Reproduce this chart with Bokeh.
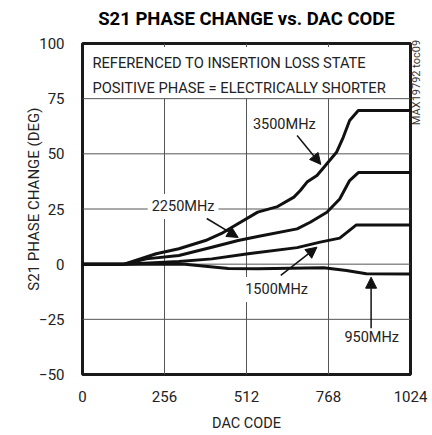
import math
from bokeh.plotting import figure
from bokeh.models import Label, Arrow, NormalHead, FixedTicker, Range1d, LinearAxis
from bokeh.embed import file_html
from bokeh.resources import INLINE

# ---- data ----
code_3500 = [0, 130, 230, 301, 384, 434, 476, 547, 609, 660, 680, 701, 732, 763, 793, 814, 834, 861, 1024]
deg_3500 = [0, 0, 4.7, 7.0, 10.7, 13.9, 17.5, 23.6, 26.1, 30.4, 33.4, 37.2, 40.2, 45.5, 50.7, 57.5, 65.1, 69.6, 69.6]

code_2250 = [0, 130, 199, 301, 404, 486, 547, 670, 711, 763, 803, 834, 861, 1024]
deg_2250 = [0, 0, 2.4, 3.9, 7.7, 10.7, 12.5, 16.0, 19.0, 23.5, 29.5, 37.9, 41.5, 41.5]

code_1500 = [0, 130, 301, 404, 517, 670, 742, 803, 855, 1024]
deg_1500 = [0, 0, 1.2, 2.4, 4.7, 7.5, 10.0, 11.8, 17.8, 17.8]

code_950 = [0, 130, 320, 455, 547, 753, 824, 886, 1024]
deg_950 = [0, 0, 0, -2.0, -2.1, -1.6, -2.9, -4.3, -4.5]

x_ticks = [0, 256, 512, 768, 1024]
y_ticks = [-50, -25, 0, 25, 50, 75, 100]

curve_labels = ["3500MHz", "2250MHz", "1500MHz", "950MHz"]
label_x = [630, 314, 606, 903]
label_y = [63.3, 26.1, -11.5, -33.4]
arrow_x0 = [670, 388, 619, 901]
arrow_y0 = [58.3, 20.7, -5.1, -29.0]
arrow_x1 = [744, 486, 732, 901]
arrow_y1 = [45.2, 12.1, 7.7, -5.9]

chart_title = "S21 PHASE CHANGE vs. DAC CODE"
note_lines = ["REFERENCED TO INSERTION LOSS STATE", "POSITIVE PHASE = ELECTRICALLY SHORTER"]
note_y = [91.0, 80.0]
box_bottom = 75          # the note box spans the top band of the chart
y_title = "S21 PHASE CHANGE (DEG)"
y_title_at = 71
side_note = "MAX19792 toc09"
side_note_at = 63

FONT = "Roboto"
TXT = "#222222"
GRID = "#555555"

p = figure(width=432, height=434, output_backend="svg", toolbar_location=None,
           x_range=Range1d(0, 1024), y_range=Range1d(-50, 100),
           min_border_left=82, min_border_right=19, min_border_top=43, min_border_bottom=60)

p.outline_line_color = "#1a1a1a"
p.outline_line_width = 3
p.grid.visible = False

p.xaxis.ticker = FixedTicker(ticks=x_ticks)
p.yaxis.ticker = FixedTicker(ticks=y_ticks)
for ax in (p.xaxis[0], p.yaxis[0]):
    ax.axis_line_color = None
    ax.major_tick_line_color = None
    ax.minor_tick_line_color = None
    ax.major_label_text_font = FONT
    ax.major_label_text_font_size = "15px"
    ax.major_label_text_color = TXT
    ax.axis_label_text_font = FONT
    ax.axis_label_text_font_size = "14.5px"
    ax.axis_label_text_font_style = "normal"
    ax.axis_label_text_color = TXT
p.xaxis.major_tick_out = 0
p.xaxis.major_tick_in = 0
p.xaxis.major_label_standoff = 16
p.yaxis.major_label_standoff = 12
p.xaxis.axis_label = "DAC CODE"
p.xaxis.axis_label_standoff = 10


def label_axis(tick, text, size, standoff, orientation, color=TXT, style="normal"):
    return LinearAxis(ticker=FixedTicker(ticks=[tick]), major_label_overrides={tick: text},
                      major_label_orientation=orientation, axis_line_color=None,
                      major_tick_line_color=None, minor_tick_line_color=None,
                      major_tick_out=0, major_tick_in=0, major_label_standoff=standoff,
                      major_label_text_font=FONT, major_label_text_font_size=size,
                      major_label_text_font_style=style, major_label_text_color=color)


# chart title centred over the plot
p.add_layout(label_axis(x_ticks[2], chart_title, "18.5px", 14, "horizontal", "#000000", "bold"), "above")
# y title as an extra outer left axis (single labelled tick)
p.add_layout(label_axis(y_title_at, y_title, "15px", 2, math.pi / 2), "left")
# side note on the right
p.add_layout(label_axis(side_note_at, side_note, "11px", 6, math.pi / 2, "#333333"), "right")

# grid lines: vertical ones stop at the note box, with short stubs at the top edge
gx = x_ticks[1:-1]
p.segment(x0=gx, y0=[y_ticks[0]] * len(gx), x1=gx, y1=[box_bottom] * len(gx),
          line_color=GRID, line_width=1)
p.segment(x0=gx, y0=[y_ticks[-1] - 1.6] * len(gx), x1=gx, y1=[y_ticks[-1]] * len(gx),
          line_color=GRID, line_width=1)
gy = y_ticks[1:-1]
p.segment(x0=[x_ticks[0]] * len(gy), y0=gy, x1=[x_ticks[-1]] * len(gy), y1=gy,
          line_color=GRID, line_width=1)

for cx, cy in ((code_3500, deg_3500), (code_2250, deg_2250), (code_1500, deg_1500), (code_950, deg_950)):
    p.line(cx, cy, line_color="#111111", line_width=3, line_join="round")

for t, ny in zip(note_lines, note_y):
    p.add_layout(Label(x=31, y=ny, text=t, text_font=FONT, text_font_size="14.7px",
                       text_color=TXT, text_baseline="alphabetic"))

for t, lx, ly in zip(curve_labels, label_x, label_y):
    p.add_layout(Label(x=lx, y=ly, text=t, text_font=FONT, text_font_size="14.5px", text_color=TXT,
                       text_align="center", text_baseline="middle",
                       background_fill_color="white", background_fill_alpha=1.0, padding=4))

for x0, y0, x1, y1 in zip(arrow_x0, arrow_y0, arrow_x1, arrow_y1):
    p.add_layout(Arrow(x_start=x0, y_start=y0, x_end=x1, y_end=y1, line_width=1.5, line_color="#111111",
                       end=NormalHead(size=11, fill_color="#111111", line_color="#111111", line_width=1)))

open("out.html", "w").write(file_html(p, INLINE))
